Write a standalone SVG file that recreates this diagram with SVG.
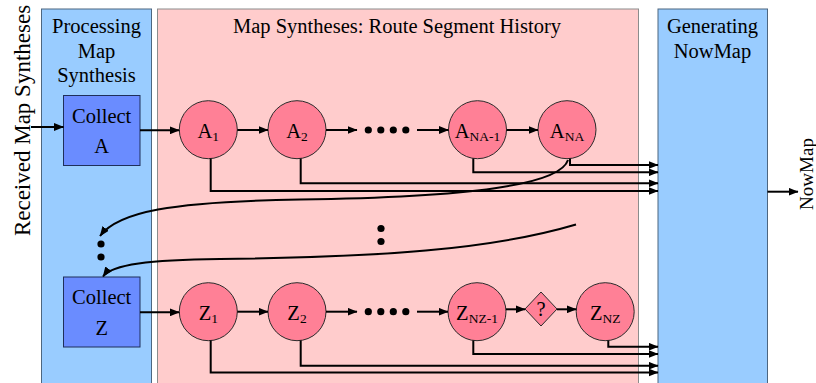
<svg xmlns="http://www.w3.org/2000/svg" width="816" height="383" viewBox="0 0 816 383">
<defs>
<marker id="ah" markerUnits="userSpaceOnUse" markerWidth="10" markerHeight="8" refX="9.5" refY="4" orient="auto">
<path d="M0,0 L10,4 L0,8 z" fill="#000"/>
</marker>
<style>
text{font-family:"Liberation Serif","Times New Roman",serif;fill:#000;}
.t{font-size:20.5px;text-anchor:middle;}
.sub{font-size:13.5px;}
.blue{fill:#99ccff;stroke:#4d6680;stroke-width:1;}
.pink{fill:#ffcccc;stroke:#8c8c8c;stroke-width:1;}
.box{fill:#6a8cff;stroke:#1f2f5a;stroke-width:1;}
.node{fill:#ff8096;stroke:#2a2a2a;stroke-width:1;}
.ln{fill:none;stroke:#000;stroke-width:2;}
.ar{fill:none;stroke:#000;stroke-width:2;marker-end:url(#ah);}
.dot{fill:#000;}
</style>
</defs>
<rect width="816" height="383" fill="#fff"/>
<g id="panel-processing">
<rect class="blue" x="41.5" y="9" width="110" height="380"/>
<text class="t" x="96.5" y="33">Processing</text>
<text class="t" x="96.5" y="57.5">Map</text>
<text class="t" x="96.5" y="82">Synthesis</text>
</g>
<g id="panel-history">
<rect class="pink" x="157.5" y="9" width="481" height="380"/>
<text class="t" x="397" y="33">Map Syntheses: Route Segment History</text>
</g>
<g id="panel-generating">
<rect class="blue" x="658" y="9" width="109.5" height="380"/>
<text class="t" x="712.5" y="33">Generating</text>
<text class="t" x="712.5" y="57.5">NowMap</text>
</g>
<g id="label-received">
<text transform="translate(29.5,120.5) rotate(-90)" style="font-size:23px;text-anchor:middle">Received Map Syntheses</text>
</g>
<g id="label-nowmap">
<text transform="translate(813,174) rotate(-90)" style="font-size:19px;text-anchor:middle">NowMap</text>
</g>
<g id="collect-a">
<rect class="box" x="63.5" y="95.5" width="76.5" height="70"/>
<text class="t" x="101.7" y="122.5">Collect</text>
<text class="t" x="101.7" y="153.3">A</text>
</g>
<g id="collect-z">
<rect class="box" x="63.5" y="277" width="76.5" height="70"/>
<text class="t" x="101.7" y="304">Collect</text>
<text class="t" x="101.7" y="335">Z</text>
</g>
<g id="a1"><circle class="node" cx="208.3" cy="129.7" r="29"/><text class="t" x="208.3" y="137.5">A<tspan class="sub" dy="3">1</tspan></text></g>
<g id="a2"><circle class="node" cx="297" cy="129.7" r="29"/><text class="t" x="297" y="137.5">A<tspan class="sub" dy="3">2</tspan></text></g>
<g id="a-na-1"><circle class="node" cx="477.5" cy="129.7" r="29"/><text class="t" x="477.5" y="137.5">A<tspan class="sub" dy="3">NA-1</tspan></text></g>
<g id="a-na"><circle class="node" cx="567" cy="129.7" r="29"/><text class="t" x="567" y="137.5">A<tspan class="sub" dy="3">NA</tspan></text></g>
<g id="z1"><circle class="node" cx="208.3" cy="311.7" r="29"/><text class="t" x="208.3" y="319.5">Z<tspan class="sub" dy="3">1</tspan></text></g>
<g id="z2"><circle class="node" cx="297" cy="311.7" r="29"/><text class="t" x="297" y="319.5">Z<tspan class="sub" dy="3">2</tspan></text></g>
<g id="z-nz-1"><circle class="node" cx="477" cy="311.7" r="29"/><text class="t" x="477" y="319.5">Z<tspan class="sub" dy="3">NZ-1</tspan></text></g>
<g id="decision"><path class="node" d="M541,292 L557,309 L541,326 L525,309 z"/><text class="t" x="541" y="316">?</text></g>
<g id="z-nz"><circle class="node" cx="605.2" cy="311.7" r="29"/><text class="t" x="605.2" y="319.5">Z<tspan class="sub" dy="3">NZ</tspan></text></g>
<g id="ellipses">
<circle class="dot" cx="368.3" cy="130" r="3.6"/><circle class="dot" cx="380.8" cy="130" r="3.6"/><circle class="dot" cx="393.3" cy="130" r="3.6"/><circle class="dot" cx="405.8" cy="130" r="3.6"/>
<circle class="dot" cx="368.3" cy="311.7" r="3.6"/><circle class="dot" cx="380.8" cy="311.7" r="3.6"/><circle class="dot" cx="393.3" cy="311.7" r="3.6"/><circle class="dot" cx="405.8" cy="311.7" r="3.6"/>
<circle class="dot" cx="101" cy="244" r="3.6"/><circle class="dot" cx="101" cy="257" r="3.6"/>
<circle class="dot" cx="381" cy="228.5" r="3.6"/><circle class="dot" cx="381" cy="241.5" r="3.6"/>
</g>
<g id="connectors">
<path class="ar" d="M31,127 L63.5,127"/>
<path class="ar" d="M140,130.3 L179.3,130.3"/>
<path class="ar" d="M237.3,130 L268,130"/>
<path class="ar" d="M326,130 L357,130"/>
<path class="ar" d="M417,130 L448.5,130"/>
<path class="ar" d="M506.5,130 L538,130"/>
<path class="ar" d="M140,312.3 L179.3,312.3"/>
<path class="ar" d="M237.3,311.7 L268,311.7"/>
<path class="ar" d="M326,311.7 L357,311.7"/>
<path class="ar" d="M417,311.7 L448,311.7"/>
<path class="ar" d="M506,309.3 L525,309.3"/>
<path class="ar" d="M557,309.3 L576.2,309.3"/>
<path class="ar" d="M570,158.5 L570,165 L658,165"/>
<path class="ar" d="M473.3,158.5 L473.3,172.3 L658,172.3"/>
<path class="ar" d="M300.7,158.5 L300.7,183.3 L658,183.3"/>
<path class="ar" d="M210.7,158.5 L210.7,191 L658,191"/>
<path class="ar" d="M608.3,340.5 L608.3,346.7 L658,346.7"/>
<path class="ar" d="M473.3,340.5 L473.3,354 L658,354"/>
<path class="ar" d="M300.7,340.5 L300.7,365.7 L658,365.7"/>
<path class="ar" d="M210.7,340.5 L210.7,372.5 L658,372.5"/>
<path class="ar" d="M767.5,191.7 L798,191.7"/>
<path class="ar" d="M568,160 C560,185 470,197 300,199.5 C170,201.5 118,212 100,236"/>
<path class="ar" d="M576,224.5 C490,250 380,257 220,259 C150,260 112,264 103,276.5"/>
</g>
</svg>
